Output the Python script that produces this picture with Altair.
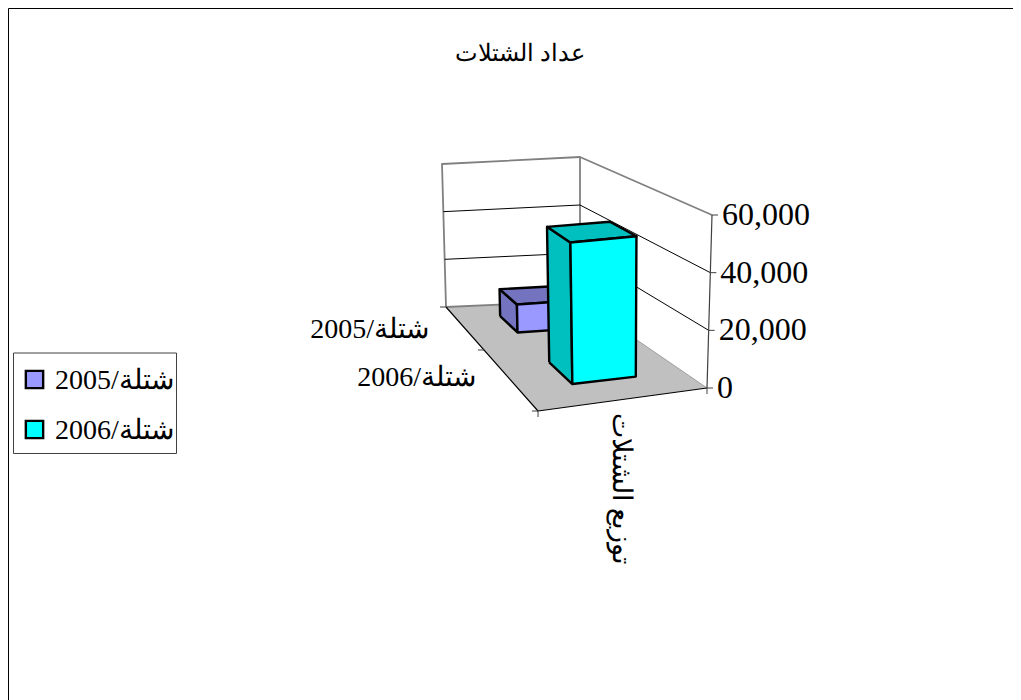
import altair as alt
import pandas as pd

# ---- chart values ----
series_labels = ["2005/شتلة", "2006/شتلة"]
series_values = [11000, 50000]
tick_values = [0, 20000, 40000, 60000]
tick_labels = ["0", "20,000", "40,000", "60,000"]
chart_title = "عداد الشتلات"
axis_title = "توزيع الشتلات"
axis_max = 60000

# ---- styles ----
front_colors = ["#9999FF", "#00FFFF"]
side_colors = ["#7373BF", "#00BFBF"]
floor_color = "#C0C0C0"
wall_color = "#808080"

# ---- perspective box: screen position of the box corners ----
# (front-left, front-right, back-right, back-left)
floor_quad = [(538, 411), (707, 388), (580, 301), (446, 307)]
top_quad = [(534, 233), (712, 215), (580, 157), (442, 164)]
# depth ranges of the two rows, and the width range shared by both
row_depth = [(0.65, 0.85), (0.15, 0.34)]
bar_span = (0.293, 0.683)


def homography(q):
    (x0, y0), (x1, y1), (x2, y2), (x3, y3) = q
    dx1, dx2, sx = x1 - x2, x3 - x2, x0 - x1 + x2 - x3
    dy1, dy2, sy = y1 - y2, y3 - y2, y0 - y1 + y2 - y3
    den = dx1 * dy2 - dx2 * dy1
    g = (sx * dy2 - dx2 * sy) / den
    h = (dx1 * sy - sx * dy1) / den
    a, b, c = x1 - x0 + g * x1, x3 - x0 + h * x3, x0
    d, e, f = y1 - y0 + g * y1, y3 - y0 + h * y3, y0

    def m(s, t):
        w = g * s + h * t + 1
        return (a * s + b * t + c) / w, (d * s + e * t + f) / w

    return m


floor_map = homography(floor_quad)
top_map = homography(top_quad)


def project(s, t, v):
    x0, y0 = floor_map(s, t)
    x1, y1 = top_map(s, t)
    k = v / axis_max
    return x0 + (x1 - x0) * k, y0 + (y1 - y0) * k


xs = alt.Scale(domain=[8, 1013], nice=False, zero=False)
ys = alt.Scale(domain=[700, 8], nice=False, zero=False)


def path(points, stroke, width, fill=None):
    df = pd.DataFrame(
        {"x": [p[0] for p in points], "y": [p[1] for p in points], "o": list(range(len(points)))}
    )
    kw = {"stroke": stroke, "strokeWidth": width, "strokeJoin": "round", "strokeCap": "butt"}
    if fill:
        kw["fill"] = fill
    return (
        alt.Chart(df)
        .mark_line(**kw)
        .encode(
            x=alt.X("x:Q", scale=xs, axis=None),
            y=alt.Y("y:Q", scale=ys, axis=None),
            order=alt.Order("o:Q"),
        )
    )


def poly(points, stroke, width, fill):
    return path(list(points) + [points[0]], stroke, width, fill)


def label(px, py, text, size, align="left", font="Liberation Serif", angle=0):
    df = pd.DataFrame({"x": [px], "y": [py], "t": [text]})
    return (
        alt.Chart(df)
        .mark_text(align=align, baseline="middle", font=font, fontSize=size, color="#000000", angle=angle)
        .encode(
            x=alt.X("x:Q", scale=xs, axis=None),
            y=alt.Y("y:Q", scale=ys, axis=None),
            text="t:N",
        )
    )


layers = []

# outer chart frame (only top and left are inside the picture)
layers.append(path([(8.5, 700), (8.5, 8.5), (1013, 8.5)], "#000000", 1))

# floor
P = project
layers.append(poly([P(0, 0, 0), P(1, 0, 0), P(1, 1, 0), P(0, 1, 0)], "none", 0, floor_color))
layers.append(path([P(1, 0, 0), P(1, 1, 0)], "#A0A0A0", 1))
layers.append(path([P(0, 1, 0), P(1, 1, 0)], wall_color, 1.8))

# walls
layers.append(path([P(0, 1, 0), P(0, 1, axis_max), P(1, 1, axis_max), P(1, 0, axis_max)], wall_color, 1.8))
layers.append(path([P(1, 1, 0), P(1, 1, axis_max)], wall_color, 1.8))

# gridlines
for v in tick_values[1:-1]:
    layers.append(path([P(0, 1, v), P(1, 1, v), P(1, 0, v)], "#000000", 1))

# floor front edges and category ticks
layers.append(path([P(0, 1, 0), P(0, 0, 0), P(1, 0, 0)], "#000000", 1.2))
for t in (0, 0.5, 1):
    x, y = P(0, t, 0)
    layers.append(path([(x - 6, y), (x, y)], "#404040", 1))
x, y = P(0, 0, 0)
layers.append(path([(x, y), (x, y + 6)], "#404040", 1))
x, y = P(1, 0, 0)
layers.append(path([(x, y), (x, y + 6)], "#404040", 1))

# value axis with ticks
layers.append(path([P(1, 0, 0), P(1, 0, axis_max)], "#404040", 1.2))
for v in tick_values:
    x, y = P(1, 0, v)
    layers.append(path([(x, y), (x + 6, y)], "#404040", 1))

# bars, back row first
for value, (t0, t1), front, side in zip(series_values, row_depth, front_colors, side_colors):
    s0, s1 = bar_span
    sw = 2.4
    layers.append(poly([P(s0, t1, 0), P(s0, t0, 0), P(s0, t0, value), P(s0, t1, value)], "#000000", sw, side))
    layers.append(poly([P(s0, t1, value), P(s0, t0, value), P(s1, t0, value), P(s1, t1, value)], "#000000", sw, side))
    layers.append(poly([P(s0, t0, 0), P(s1, t0, 0), P(s1, t0, value), P(s0, t0, value)], "#000000", sw, front))

# value axis labels
for v, text in zip(tick_values, tick_labels):
    x, y = P(1, 0, v)
    layers.append(label(x + 10, y, text, 32))

# category labels
layers.append(label(429, 330, series_labels[0], 28, "right"))
layers.append(label(476, 378, series_labels[1], 28, "right"))

# titles
layers.append(label(520, 54, chart_title, 23.5, "center", "Liberation Sans"))
layers.append(label(621, 489, axis_title, 26.5, "center", angle=90))

# legend
layers.append(poly([(13.5, 353), (176.5, 353), (176.5, 453.5), (13.5, 453.5)], "#404040", 1, "#FFFFFF"))
legend_y = [379.5, 429.5]
for ly, text, c in zip(legend_y, series_labels, front_colors):
    df = pd.DataFrame({"x": [34.5], "y": [ly]})
    layers.append(
        alt.Chart(df)
        .mark_square(size=300, fill=c, stroke="#000000", strokeWidth=2.4, opacity=1)
        .encode(x=alt.X("x:Q", scale=xs, axis=None), y=alt.Y("y:Q", scale=ys, axis=None))
    )
    layers.append(label(55, ly + 1, text, 28))

chart = (
    alt.layer(*layers)
    .properties(width=1005, height=692, padding=0, autosize=alt.AutoSizeParams(type="none"))
    .configure_view(stroke=None)
    .configure(background="#FFFFFF")
)
chart.save("out.html", embed_options={"renderer": "svg", "actions": False})
